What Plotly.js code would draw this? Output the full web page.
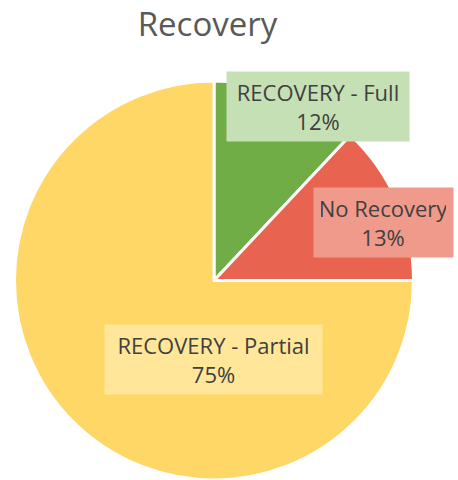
<!DOCTYPE html>
<html>
<head>
<meta charset="utf-8">
<script src="https://cdn.plot.ly/plotly-3.0.1.min.js"></script>
<style>html,body{margin:0;padding:0;background:#fff;}#chart{width:458px;height:480px;}</style>
</head>
<body>
<div id="chart"></div>
<script>
const labels = ["RECOVERY - Full", "No Recovery", "RECOVERY - Partial"];
const values = [12, 13, 75];
const sliceColors = ["#70AD47", "#E96450", "#FFD766"];
const boxColors = ["#C5E0B4", "#F09A8C", "#FFE699"];
const labelPos = [[0.695, 0.778], [0.838, 0.536], [0.466, 0.252]];
const boxWidths = [168, 125, 203];

const total = values.reduce((a, b) => a + b, 0);
const annotations = labels.map((l, i) => ({
  xref: "paper", yref: "paper",
  x: labelPos[i][0], y: labelPos[i][1],
  xanchor: "center", yanchor: "middle",
  text: l + "<br>" + Math.round(values[i] / total * 100) + "%",
  showarrow: false,
  bgcolor: boxColors[i],
  borderpad: 7,
  width: boxWidths[i],
  height: 55,
  font: {family: "Open Sans", size: 22, color: "#404040"}
}));

Plotly.newPlot("chart", [{
  type: "pie",
  labels: labels,
  values: values,
  sort: false,
  direction: "clockwise",
  rotation: 0,
  textinfo: "none",
  hoverinfo: "label+percent",
  marker: {colors: sliceColors, line: {color: "#ffffff", width: 3}},
  domain: {x: [14 / 458, 414 / 458], y: [0, 399 / 480]},
  showlegend: false
}], {
  width: 458, height: 480,
  margin: {l: 0, r: 0, t: 0, b: 0},
  paper_bgcolor: "#ffffff",
  title: {text: "Recovery", x: 0.453, xanchor: "center", y: 0.95, yanchor: "middle",
          font: {family: "Open Sans", size: 33, color: "#595959"}},
  annotations: annotations,
  showlegend: false
}, {displayModeBar: false, staticPlot: true});
</script>
</body>
</html>
